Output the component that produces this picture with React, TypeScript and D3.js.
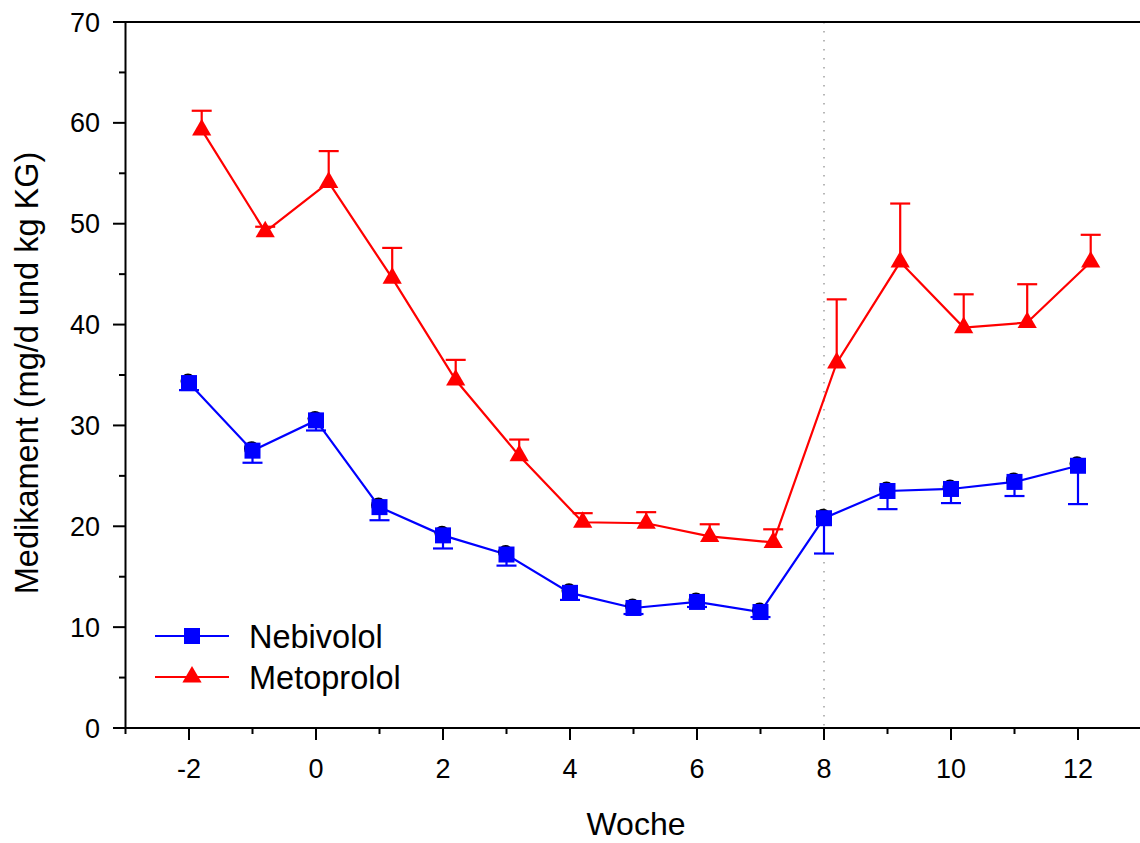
import * as d3 from "d3";

const weeks = [-2, -1, 0, 1, 2, 3, 4, 5, 6, 7, 8, 9, 10, 11, 12];
const nebivololMean = [34.2, 27.5, 30.5, 21.9, 19.1, 17.2, 13.4, 11.9, 12.5, 11.5, 20.8, 23.5, 23.7, 24.4, 26.0];
const nebivololLow = [33.5, 26.3, 29.5, 20.6, 17.8, 16.1, 12.7, 11.3, 12.0, 11.0, 17.3, 21.7, 22.3, 23.0, 22.2];
const metoprololMean = [59.3, 49.2, 54.1, 44.6, 34.5, 27.0, 20.4, 20.3, 19.0, 18.4, 36.2, 46.2, 39.7, 40.2, 46.2];
const metoprololHigh = [61.2, 49.7, 57.2, 47.6, 36.5, 28.6, 21.3, 21.4, 20.2, 19.7, 42.5, 52.0, 43.0, 44.0, 48.9];
const xMajorTicks = [-2, 0, 2, 4, 6, 8, 10, 12];
const xMinorTicks = [-3, -1, 1, 3, 5, 7, 9, 11, 13];
const yMajorTicks = [0, 10, 20, 30, 40, 50, 60, 70];
const yMinorTicks = [5, 15, 25, 35, 45, 55, 65];
const seriesNames = ["Nebivolol", "Metoprolol"];

const FONT = "'Liberation Sans', Arial, sans-serif";
const BLUE = "#0000ff";
const RED = "#ff0000";
const META_SHIFT = 0.2;

export default function App() {
  const width = 1140;
  const height = 843;
  const x = d3.scaleLinear().domain([-3, 13]).range([125.5, 1141.5]);
  const y = d3.scaleLinear().domain([0, 70]).range([728, 22]);

  const neb = weeks.map((w, i) => ({ w, v: nebivololMean[i], e: nebivololLow[i] }));
  const met = weeks.map((w, i) => ({ w: w + META_SHIFT, v: metoprololMean[i], e: metoprololHigh[i] }));

  const line = d3
    .line<{ w: number; v: number }>()
    .x((d) => x(d.w))
    .y((d) => y(d.v));

  const tri = d3.symbol(d3.symbolTriangle, 160)();
  const cap = 10;

  return (
    <svg
      width={width}
      height={height}
      style={{ position: "absolute", left: 0, top: 0, background: "#fff" }}
      fontFamily={FONT}
    >
      <rect width={width} height={height} fill="#fff" />

      {/* dotted marker at week 8 */}
      <line
        x1={x(8)}
        x2={x(8)}
        y1={y(70)}
        y2={y(0)}
        stroke="#888"
        strokeWidth={1.2}
        strokeDasharray="1.5 7.5"
      />

      {/* axes */}
      <line x1={113} x2={width} y1={y(70)} y2={y(70)} stroke="#000" strokeWidth={2} />
      <line x1={113} x2={width} y1={y(0)} y2={y(0)} stroke="#000" strokeWidth={2} />
      <line x1={x(-3)} x2={x(-3)} y1={y(70)} y2={y(0)} stroke="#000" strokeWidth={2} />

      {yMajorTicks.map((t) => (
        <g key={"ym" + t}>
          <line x1={113} x2={x(-3)} y1={y(t)} y2={y(t)} stroke="#000" strokeWidth={2} />
          <text x={100} y={y(t) + 9.5} textAnchor="end" fontSize={27}>
            {t}
          </text>
        </g>
      ))}
      {yMinorTicks.map((t) => (
        <line key={"yn" + t} x1={119} x2={x(-3)} y1={y(t)} y2={y(t)} stroke="#000" strokeWidth={2} />
      ))}
      {xMajorTicks.map((t) => (
        <g key={"xm" + t}>
          <line x1={x(t)} x2={x(t)} y1={y(0)} y2={740} stroke="#000" strokeWidth={2} />
          <text x={x(t)} y={778} textAnchor="middle" fontSize={27}>
            {t}
          </text>
        </g>
      ))}
      {xMinorTicks.map((t) => (
        <line key={"xn" + t} x1={x(t)} x2={x(t)} y1={y(0)} y2={734} stroke="#000" strokeWidth={2} />
      ))}

      <text x={636} y={835} textAnchor="middle" fontSize={32}>
        Woche
      </text>
      <text
        transform={`translate(38, ${y(35) - 2}) rotate(-90)`}
        textAnchor="middle"
        fontSize={32.5}
      >
        Medikament (mg/d und kg KG)
      </text>

      {/* Nebivolol */}
      <path d={line(neb) || ""} fill="none" stroke={BLUE} strokeWidth={2.2} />
      {neb.map((d, i) => (
        <g key={"nb" + i}>
          <line x1={x(d.w)} x2={x(d.w)} y1={y(d.v)} y2={y(d.e)} stroke={BLUE} strokeWidth={2.2} />
          <line x1={x(d.w) - cap} x2={x(d.w) + cap} y1={y(d.e)} y2={y(d.e)} stroke={BLUE} strokeWidth={2.2} />
          <circle cx={x(d.w) - 1} cy={y(d.v) - 2} r={7.5} fill="#000" />
          <rect x={x(d.w) - 8} y={y(d.v) - 8} width={16} height={16} fill={BLUE} />
        </g>
      ))}

      {/* Metoprolol */}
      <path d={line(met) || ""} fill="none" stroke={RED} strokeWidth={2.2} />
      {met.map((d, i) => (
        <g key={"mt" + i}>
          <line x1={x(d.w)} x2={x(d.w)} y1={y(d.v)} y2={y(d.e)} stroke={RED} strokeWidth={2.2} />
          <line x1={x(d.w) - cap} x2={x(d.w) + cap} y1={y(d.e)} y2={y(d.e)} stroke={RED} strokeWidth={2.2} />
          <path d={tri || ""} transform={`translate(${x(d.w)}, ${y(d.v)})`} fill={RED} />
        </g>
      ))}

      {/* legend */}
      {seriesNames.map((name, i) => {
        const ly = 636 + i * 41;
        return (
          <g key={name}>
            <line x1={155} x2={229} y1={ly} y2={ly} stroke={i === 0 ? BLUE : RED} strokeWidth={2.2} />
            {i === 0 ? (
              <rect x={184} y={ly - 8} width={16} height={16} fill={BLUE} />
            ) : (
              <path d={tri || ""} transform={`translate(192, ${ly})`} fill={RED} />
            )}
            <text x={249} y={ly + 12} fontSize={32.5}>
              {name}
            </text>
          </g>
        );
      })}
    </svg>
  );
}
